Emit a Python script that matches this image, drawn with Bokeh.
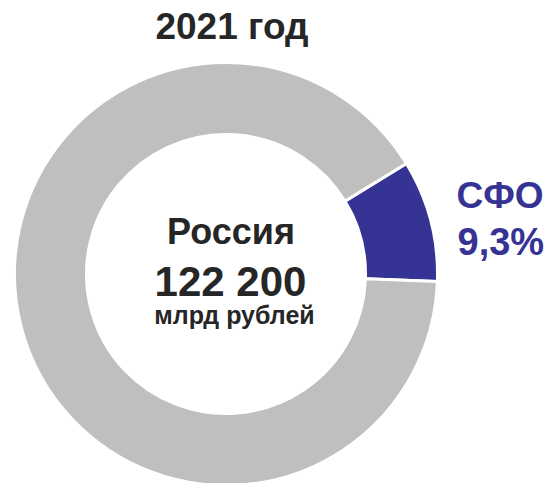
import math
from bokeh.plotting import figure
from bokeh.models import Range1d, ColumnDataSource
from bokeh.core.properties import value
from bokeh.embed import file_html
from bokeh.resources import INLINE

# ---- data ----
categories = ["СФО", "Остальные регионы"]
shares = [9.3, 90.7]            # percent of Russia total
slice_colors = ["#353393", "#BFBFBF"]
title_text = "2021 год"
center_name = "Россия"
center_value = "122 200"
center_unit = "млрд рублей"
label_name = "СФО"
label_share = "9,3%"

W, H = 549, 483
p = figure(width=W, height=H, output_backend="svg", toolbar_location=None,
           x_range=Range1d(0, W), y_range=Range1d(0, H), min_border=0)
p.axis.visible = False
p.grid.visible = False
p.outline_line_color = None
p.background_fill_color = "white"
p.border_fill_color = "white"

cx, cy = 225.5, 209.5
r_out, r_in = 211.5, 139.5
start0 = math.radians(-2.0)

starts, ends = [], []
a = start0
for s in shares:
    starts.append(a)
    a += s / 100.0 * 2 * math.pi
    ends.append(a)

src = ColumnDataSource(dict(start=starts, end=ends, color=slice_colors, cat=categories))
p.annular_wedge(x=cx, y=cy, inner_radius=r_in, outer_radius=r_out,
                start_angle="start", end_angle="end", fill_color="color",
                line_color="white", line_width=3, source=src)

font = value("Liberation Sans")
dark = "#262626"
blue = slice_colors[0]

def label(x, y, txt, size, color, align="center"):
    p.text(x=[x], y=[y], text=[txt], text_font=font, text_font_style="bold",
           text_font_size=size, text_color=color, text_align=align,
           text_baseline="alphabetic")

label(231.5, 457, title_text, "37px", dark)
label(230.5, 252, center_name, "36px", dark)
label(230, 202, center_value, "42px", dark)
label(234, 169, center_unit, "25px", dark)
label(456, 288, label_name, "37px", blue, "left")
label(457, 242, label_share, "38px", blue, "left")

open("out.html", "w").write(file_html(p, INLINE))
